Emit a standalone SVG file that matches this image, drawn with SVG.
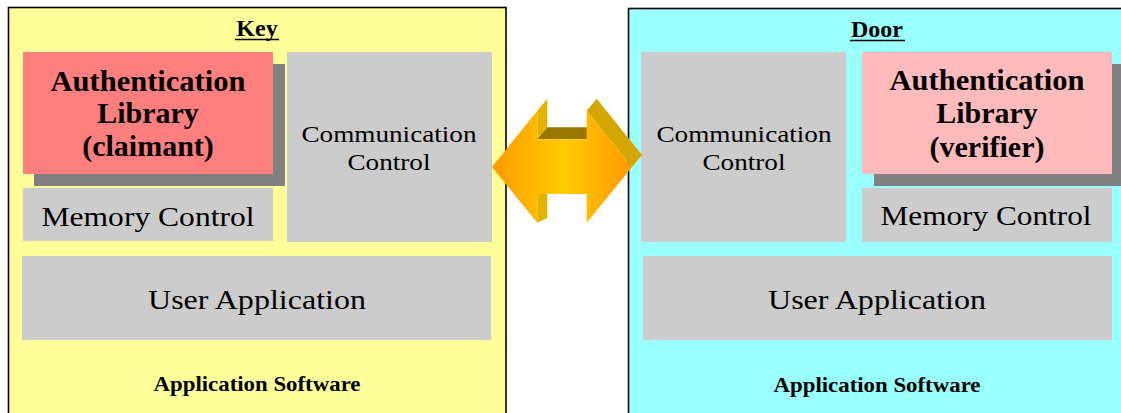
<svg xmlns="http://www.w3.org/2000/svg" width="1121" height="413" viewBox="0 0 1121 413">
<defs>
<style>
.panel{stroke:#000;stroke-width:1.6}
.gray{fill:#CCCCCC}
.shadow{fill:#808080}
.t{font-family:"Liberation Serif","Times New Roman",serif;fill:#000;text-anchor:middle}
.b{font-weight:bold}
.u{stroke:#000;stroke-width:1.6}
</style>
<linearGradient id="ag" x1="492" y1="0" x2="632" y2="0" gradientUnits="userSpaceOnUse">
<stop offset="0" stop-color="#FF9900"/>
<stop offset="0.5" stop-color="#FFCC00"/>
<stop offset="1" stop-color="#FF9900"/>
</linearGradient>
</defs>
<rect width="1121" height="413" fill="#FFFFFF"/>

<g id="key-panel">
<rect class="panel" x="8.5" y="7.5" width="497.5" height="420" fill="#FFFF99"/>
<text class="t b" x="257" y="36" font-size="24">Key</text>
<line class="u" x1="235" y1="39.5" x2="279" y2="39.5"/>
<text class="t b" x="257" y="391" font-size="22" textLength="207" lengthAdjust="spacingAndGlyphs">Application Software</text>
</g>

<g id="door-panel">
<rect class="panel" x="628.5" y="8.5" width="500" height="420" fill="#99FFFF"/>
<text class="t b" x="877" y="37" font-size="24">Door</text>
<line class="u" x1="850" y1="40.5" x2="905" y2="40.5"/>
<text class="t b" x="877" y="392" font-size="22" textLength="207" lengthAdjust="spacingAndGlyphs">Application Software</text>
</g>

<g id="key-auth">
<rect class="shadow" x="34" y="64" width="251" height="122"/>
<rect x="23" y="52" width="250" height="122" fill="#FF7F7F"/>
<text class="t b" x="148" y="91" font-size="30" textLength="195" lengthAdjust="spacingAndGlyphs">Authentication</text>
<text class="t b" x="148" y="123" font-size="30">Library</text>
<text class="t b" x="148" y="156" font-size="30">(claimant)</text>
</g>

<g id="key-memory">
<rect class="gray" x="23" y="188" width="250" height="53"/>
<text class="t" x="148" y="226" font-size="27" textLength="213" lengthAdjust="spacingAndGlyphs">Memory Control</text>
</g>

<g id="key-comm">
<rect class="gray" x="287" y="52" width="205" height="190"/>
<text class="t" x="389" y="141.5" font-size="24" textLength="175" lengthAdjust="spacingAndGlyphs">Communication</text>
<text class="t" x="389" y="170" font-size="24" textLength="83" lengthAdjust="spacingAndGlyphs">Control</text>
</g>

<g id="key-user">
<rect class="gray" x="22" y="256" width="469" height="84"/>
<text class="t" x="257" y="309" font-size="28" textLength="218" lengthAdjust="spacingAndGlyphs">User Application</text>
</g>

<g id="door-comm">
<rect class="gray" x="641" y="52" width="205" height="190"/>
<text class="t" x="744" y="141.5" font-size="24" textLength="175" lengthAdjust="spacingAndGlyphs">Communication</text>
<text class="t" x="744" y="170" font-size="24" textLength="83" lengthAdjust="spacingAndGlyphs">Control</text>
</g>

<g id="door-auth">
<rect class="shadow" x="874" y="64" width="260" height="122"/>
<rect x="862" y="52" width="250" height="122" fill="#FFBBBB"/>
<text class="t b" x="987" y="90" font-size="30" textLength="195" lengthAdjust="spacingAndGlyphs">Authentication</text>
<text class="t b" x="987" y="123" font-size="30">Library</text>
<text class="t b" x="987" y="156.5" font-size="30">(verifier)</text>
</g>

<g id="door-memory">
<rect class="gray" x="862" y="188" width="250" height="54"/>
<text class="t" x="986" y="225" font-size="27" textLength="211" lengthAdjust="spacingAndGlyphs">Memory Control</text>
</g>

<g id="door-user">
<rect class="gray" x="643" y="256" width="469" height="84"/>
<text class="t" x="877" y="309" font-size="28" textLength="218" lengthAdjust="spacingAndGlyphs">User Application</text>
</g>

<g id="connectors">
<polygon points="537.3,110.7 547.3,98.7 547.3,127.3 537.3,139.3" fill="#E3B300"/>
<polygon points="537.3,194 547.3,194 547.3,218 537.3,222.7" fill="#E3B300"/>
<polygon points="537.3,139.3 547.3,127.3 596.7,127.3 586.7,139.3" fill="#997700"/>
<polygon points="586.7,110.7 596.7,98.7 642,155 632,167" fill="#D4A600"/>
<polygon points="492,167 537.3,110.7 537.3,139.3 586.7,139.3 586.7,110.7 632,167 586.7,222.7 586.7,194 537.3,194 537.3,222.7" fill="url(#ag)"/>
</g>
</svg>
